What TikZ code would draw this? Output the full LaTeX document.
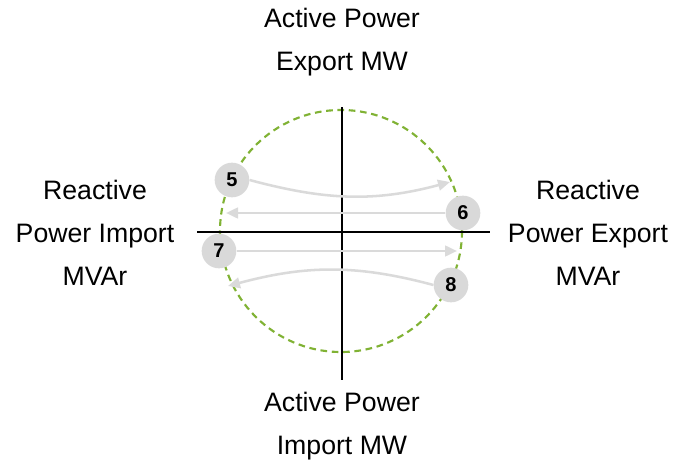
\documentclass[tikz,border=0pt]{standalone}
\usepackage{fontspec}
\setmainfont{Liberation Sans}
\usetikzlibrary{arrows.meta}
\definecolor{dashgreen}{RGB}{128,178,52}
\definecolor{flowgray}{RGB}{218,218,218}
\definecolor{badgegray}{RGB}{217,217,217}
\begin{document}
\begin{tikzpicture}[x=0.75pt,y=-0.75pt,
    label/.style={align=center,font=\fontsize{20}{32}\selectfont},
    badge/.style={circle,fill=badgegray,minimum size=26pt,inner sep=0pt,font=\fontsize{15}{15}\selectfont\bfseries},
    flow/.style={-{Triangle[length=9pt,width=8pt]},color=flowgray,line width=1.9pt},
    axis/.style={line width=1.9pt}]
  \useasboundingbox (0,0) rectangle (686,464);

    %circle
    \draw [dashgreen,line width=1.6pt,dash pattern=on 5pt off 3.5pt] (341,231) circle [radius=121];

    %axes
    \coordinate (N) at (342,107);
    \coordinate (S) at (342,380);
    \coordinate (W) at (197,232);
    \coordinate (E) at (490,232);
    \draw [axis] (N) -- (S);
    \draw [axis] (W) -- (E);

    %labels
    \node (top) at (342,42)[label]{Active Power\\Export MW};
    \node (bottom) at (342,426)[label]{Active Power\\Import MW};
    \node (left) at (95,233)[label]{Reactive\\Power Import\\MVAr};
    \node (right) at (588,233)[label]{Reactive\\Power Export\\MVAr};

    %arrow ends
    \coordinate (e5) at (450,182);
    \coordinate (e6) at (226,213);
    \coordinate (e7) at (457,251);
    \coordinate (e8) at (228,286);

    %badges
    \node (b5) at (232,180)[badge]{5};
    \node (b6) at (463,213)[badge]{6};
    \node (b7) at (219,251)[badge]{7};
    \node (b8) at (451,285)[badge]{8};

    %flows
    \draw [flow] (b5.east) to [out=-15,in=195] (e5);
    \draw [flow] (b6.west) to (e6);
    \draw [flow] (b7.east) to (e7);
    \draw [flow] (b8.west) to [out=165,in=15] (e8);
  \end{tikzpicture}
\end{document}
